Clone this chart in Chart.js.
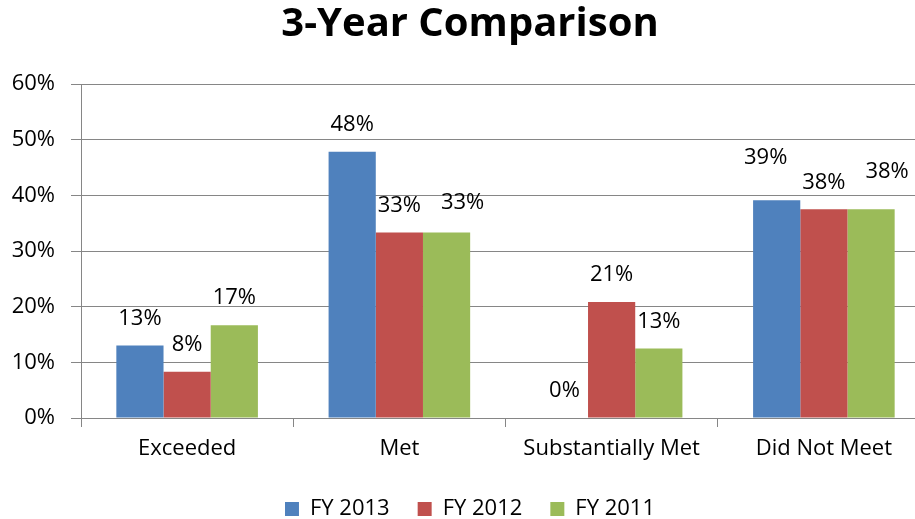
<!DOCTYPE html>
<html>
<head>
<meta charset="utf-8">
<title>3-Year Comparison</title>
<script src="https://cdn.jsdelivr.net/npm/chart.js@4.4.1/dist/chart.umd.min.js"></script>
<style>
    html, body { margin: 0; padding: 0; background: #fff; overflow: hidden; }
    #wrap { width: 947px; height: 519px; }
</style>
</head>
<body>
<div id="wrap"><canvas id="compareChart" width="947" height="519"></canvas></div>
<script>
// Rating categories and share of results per fiscal year (percent)
const categories = ['Exceeded', 'Met', 'Substantially Met', 'Did Not Meet'];
const fy2013 = [13.04, 47.83, 0, 39.13];
const fy2012 = [8.33, 33.33, 20.83, 37.5];
const fy2011 = [16.67, 33.33, 12.5, 37.5];
const yTicks = [0, 10, 20, 30, 40, 50, 60];

// Label nudges [dx, dy] where a value label sits off its default spot
const labelNudge = {
    '0-3': [-11, 15],
    '2-1': [16, 3],
    '2-3': [16, 11]
};

Chart.defaults.font.family = "'Open Sans', sans-serif";
Chart.defaults.color = '#000';

// Draws the rounded percentage above each bar
const valueLabels = {
    id: 'valueLabels',
    afterDatasetsDraw(chart) {
        const ctx = chart.ctx;
        ctx.save();
        ctx.font = "22px 'Open Sans', sans-serif";
        ctx.fillStyle = '#000';
        ctx.textAlign = 'center';
        ctx.textBaseline = 'middle';
        chart.data.datasets.forEach((ds, di) => {
            chart.getDatasetMeta(di).data.forEach((bar, i) => {
                const nudge = labelNudge[di + '-' + i] || [0, 0];
                const text = Math.round(ds.data[i]) + '%';
                ctx.fillText(text, bar.x + nudge[0], bar.y - 27 - nudge[1]);
            });
        });
        ctx.restore();
    }
};

const ctx = document.getElementById('compareChart').getContext('2d');
const compareChart = new Chart(ctx, {
    type: 'bar',
    data: {
        labels: categories,
        datasets: [
            { label: 'FY 2013', data: fy2013, backgroundColor: '#4F81BD' },
            { label: 'FY 2012', data: fy2012, backgroundColor: '#C0504D' },
            { label: 'FY 2011', data: fy2011, backgroundColor: '#9BBB59' }
        ]
    },
    options: {
        responsive: false,
        animation: false,
        layout: { padding: { left: 10, right: 17, top: 0, bottom: -11 } },
        datasets: {
            bar: { barPercentage: 1, categoryPercentage: 0.667 }
        },
        scales: {
            x: {
                grid: {
                    drawOnChartArea: false,
                    color: '#868686',
                    tickLength: 9,
                    offset: true
                },
                border: { color: '#868686' },
                ticks: {
                    font: { size: 22 },
                    color: '#000',
                    padding: 9,
                    maxRotation: 0
                },
                afterFit: (scale) => { scale.height = 52; }
            },
            y: {
                min: 0,
                max: 60,
                afterBuildTicks: (scale) => {
                    scale.ticks = yTicks.map(v => ({ value: v }));
                },
                grid: { color: '#868686', tickLength: 10 },
                border: { color: '#868686' },
                ticks: {
                    font: { size: 22 },
                    color: '#000',
                    padding: 16,
                    callback: (value) => value + '%'
                },
                afterFit: (scale) => { scale.width = 71; }
            }
        },
        plugins: {
            title: {
                display: true,
                text: '3-Year Comparison',
                color: '#000',
                font: { size: 40, weight: 'bold' },
                padding: { top: 1, bottom: 35 }
            },
            legend: {
                position: 'bottom',
                labels: {
                    boxWidth: 14,
                    boxHeight: 14,
                    padding: 28,
                    font: { size: 22 },
                    color: '#000'
                }
            },
            tooltip: { enabled: false }
        }
    },
    plugins: [valueLabels]
});
</script>
</body>
</html>
